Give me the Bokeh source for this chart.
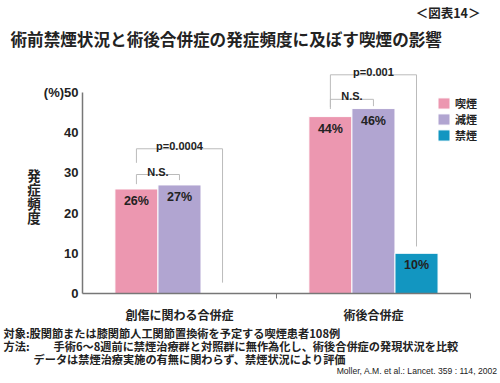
from bokeh.plotting import figure
from bokeh.models import ColumnDataSource, Legend, LegendItem, FixedTicker, Range1d
from bokeh.core.properties import value
from bokeh.embed import file_html
from bokeh.resources import INLINE

# ---- data ----
categories = ["創傷に関わる合併症", "術後合併症"]
series = ["喫煙", "減煙", "禁煙"]
smoking = [26, 44]
reduced = [27, 46]
quitted = [0, 10]
colors = ["#EC97B0", "#B1A5D1", "#1296C1"]
y_ticks = [0, 10, 20, 30, 40, 50]
y_tick_labels = ["0", "10", "20", "30", "40", "(%)50"]

# significance brackets: (category index, from series, to series, top, left bottom, right bottom, text)
brackets = [
    (0, 0, 2, 36.0, 32.5, 2.7, "p=0.0004"),
    (0, 0, 1, 29.6, 27.2, 28.2, "N.S."),
    (1, 0, 2, 54.4, 46.4, 11.7, "p=0.001"),
    (1, 0, 1, 48.3, 45.9, 46.6, "N.S."),
]

title_text = "術前禁煙状況と術後合併症の発症頻度に及ぼす喫煙の影響"
fig_no = "＜図表14＞"
notes = [
    "対象:股関節または膝関節人工関節置換術を予定する喫煙患者108例",
    "方法:",
    "手術6～8週前に禁煙治療群と対照群に無作為化し、術後合併症の発現状況を比較",
    "データは禁煙治療実施の有無に関わらず、禁煙状況により評価",
]
source_text = "Moller, A.M. et al.: Lancet. 359 : 114, 2002"

SANS = "Liberation Sans"
JP = "Noto Sans CJK JP"
DARK = "#222222"

W = 500
HEAD_H, MAIN_H, FOOT_H = 55, 270, 58


def blank(h, y0):
    f = figure(width=W, height=h, output_backend="svg", toolbar_location=None,
               x_range=Range1d(0, W), y_range=Range1d(y0 + h, y0),
               x_axis_type=None, y_axis_type=None, title=None,
               min_border=0, min_border_left=0, min_border_right=0,
               min_border_top=0, min_border_bottom=0)
    f.outline_line_color = None
    f.grid.visible = False
    return f


# ---- header ----
head = blank(HEAD_H, 0)
head.text(x=[10], y=[38], text=[title_text], text_font=value(JP), text_font_size="16.6px",
          text_font_style="bold", text_baseline="middle", text_align="left", text_color=DARK)
head.text(x=[480], y=[12], text=[fig_no], text_font=value(JP), text_font_size="12.5px",
          text_font_style="bold", text_baseline="middle", text_align="right", text_color=DARK)

# ---- main chart ----
offsets = [-0.222, 0.0, 0.222]
bar_w = 0.222
centers = [i + 0.5 for i in range(len(categories))]

p = figure(width=W, height=MAIN_H, output_backend="svg", toolbar_location=None,
           x_range=Range1d(0, 2.155), y_range=Range1d(0, 59.2), title=None,
           min_border_left=82, min_border_right=0, min_border_top=0, min_border_bottom=26)
p.outline_line_color = None
p.grid.visible = False

values_all = [smoking, reduced, quitted]
renderers = []
for name, vals, col, off in zip(series, values_all, colors, offsets):
    xs = [c + off for c, v in zip(centers, vals) if v > 0]
    ys = [v for v in vals if v > 0]
    labs = [f"{v}%" for v in ys]
    src = ColumnDataSource(dict(x=xs, top=ys, lab=labs))
    r = p.vbar(x="x", top="top", width=bar_w, source=src, fill_color=col,
               line_color="white", line_width=1)
    renderers.append(r)
    p.text(x="x", y="top", text="lab", source=src, text_align="center",
           text_baseline="top", y_offset=5, text_font=value(SANS),
           text_font_size="12.5px", text_font_style="bold", text_color=DARK)

bx, by, tx, ty, tt = [], [], [], [], []
for ci, a, b, top, lb, rb, txt in brackets:
    xl = centers[ci] + offsets[a]
    xr = centers[ci] + offsets[b]
    bx.append([xl, xl, xr, xr])
    by.append([lb, top, top, rb])
    tx.append((xl + xr) / 2)
    ty.append(top)
    tt.append(txt)
p.multi_line(xs=bx, ys=by, line_color="#BBBBBB", line_width=1)
p.text(x=tx, y=ty, text=tt, text_align="center", text_baseline="alphabetic",
       y_offset=-3, text_font=value(SANS), text_font_size="11px",
       text_font_style="bold", text_color=DARK)

yax = p.yaxis[0]
yax.ticker = FixedTicker(ticks=y_ticks)
yax.major_label_overrides = {t: s for t, s in zip(y_ticks, y_tick_labels)}
yax.bounds = (0, 50)
yax.axis_line_color = "#777777"
yax.axis_line_width = 1.5
yax.major_tick_line_color = None
yax.major_tick_out = 0
yax.minor_tick_line_color = None
yax.major_label_standoff = 4
yax.major_label_text_font = SANS
yax.major_label_text_font_size = "13px"
yax.major_label_text_font_style = "bold"
yax.major_label_text_color = DARK
yax.axis_label = "\n\n\n発\n症\n頻\n度"
yax.axis_label_orientation = "horizontal"
yax.axis_label_standoff = 0
yax.axis_label_text_font = JP
yax.axis_label_text_font_size = "13.5px"
yax.axis_label_text_font_style = "bold"
yax.axis_label_text_color = DARK
yax.axis_label_text_line_height = 0.7

xax = p.xaxis[0]
xax.ticker = FixedTicker(ticks=centers, minor_ticks=[1, 2])
xax.bounds = (0, 2)
xax.axis_line_color = "#777777"
xax.axis_line_width = 1.5
xax.major_tick_line_color = None
xax.major_tick_out = 0
xax.minor_tick_line_color = "#777777"
xax.minor_tick_out = 5
xax.minor_tick_in = 0
xax.major_label_overrides = {c: n for c, n in zip(centers, categories)}
xax.major_label_standoff = 7
xax.major_label_text_font = JP
xax.major_label_text_font_size = "12px"
xax.major_label_text_font_style = "bold"
xax.major_label_text_color = DARK

# one legend box per series so the rows sit as tightly as in the original
for k, (n, r) in enumerate(zip(series, renderers)):
    lg = Legend(items=[LegendItem(label=n, renderers=[r])],
                location=(354, 182 - 16 * k), padding=0, margin=0, spacing=0,
                glyph_width=15, glyph_height=14, label_height=14, label_standoff=4,
                label_text_font=JP, label_text_font_size="11px",
                label_text_font_style="bold", label_text_color=DARK,
                label_text_line_height=1.0,
                border_line_color=None, background_fill_alpha=0)
    p.add_layout(lg, "center")

# ---- footer ----
y0 = HEAD_H + MAIN_H
foot = blank(FOOT_H, y0)
foot.text(x=[3, 3, 53, 33], y=[332, 345, 345, 358], text=notes, text_font=value(JP),
          text_font_size="11.2px", text_font_style="bold", text_baseline="middle",
          text_align="left", text_color=DARK)
foot.text(x=[497], y=[370], text=[source_text], text_font=value(SANS), text_font_size="8.6px",
          text_baseline="middle", text_align="right", text_color=DARK)

open("out.html", "w").write(file_html([head, p, foot], INLINE))
